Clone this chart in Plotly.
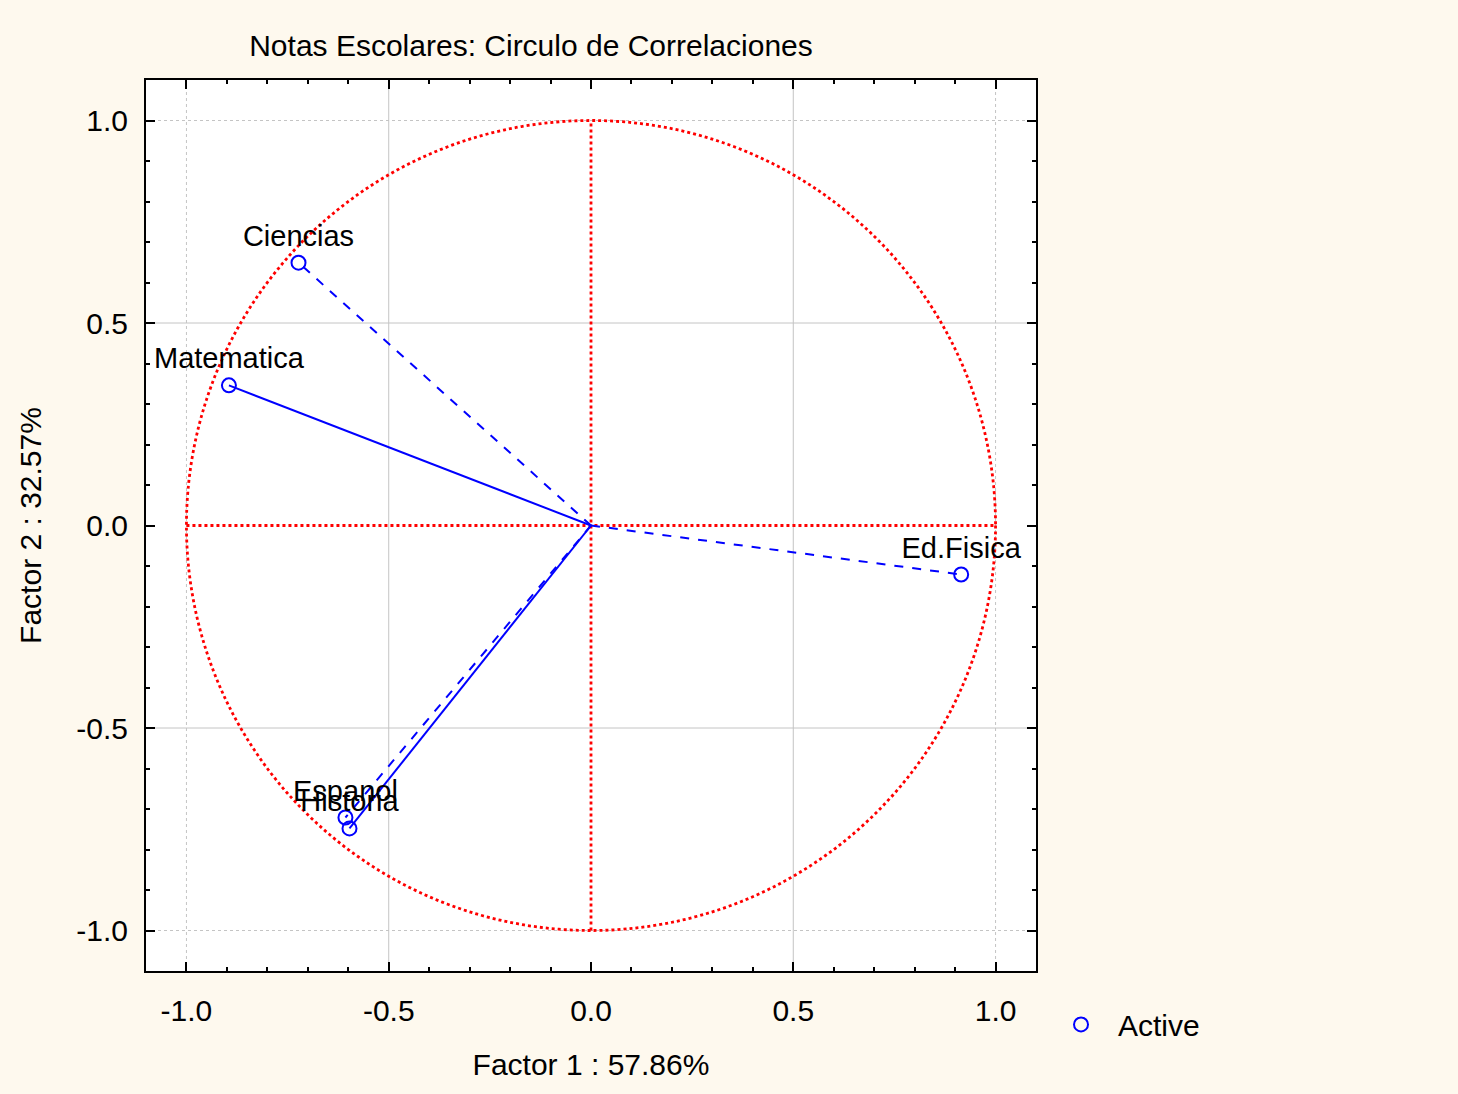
import plotly.graph_objects as go

# ---- data ----
variables = ["Ciencias", "Matematica", "Ed.Fisica", "Espanol", "Historia"]
factor1 = [-0.723, -0.895, 0.915, -0.607, -0.597]
factor2 = [0.649, 0.346, -0.121, -0.721, -0.748]
line_dash = ["dash", "solid", "dash", "dash", "solid"]
tick_vals = [-1.0, -0.5, 0.0, 0.5, 1.0]
tick_text = ["-1.0", "-0.5", "0.0", "0.5", "1.0"]
solid_grid = [-0.5, 0.5]
dotted_grid = [-1.0, 1.0]

FONT = "Liberation Sans, Arial, sans-serif"
FS = 30
BLUE = "#0000ff"
RED = "#ff0000"

fig = go.Figure()

# vectors from origin
for name, x, y, d in zip(variables, factor1, factor2, line_dash):
    fig.add_trace(go.Scatter(
        x=[0, x], y=[0, y], mode="lines",
        line=dict(color=BLUE, width=2, dash=d),
        showlegend=False, hoverinfo="skip"))

# points with labels
fig.add_trace(go.Scatter(
    x=factor1, y=factor2, mode="markers+text", name="Active",
    text=variables, textposition="top center",
    textfont=dict(family=FONT, size=FS - 1, color="black"),
    marker=dict(symbol="circle-open", size=14, color=BLUE, line=dict(width=2, color=BLUE)),
    showlegend=True))

shapes = []
# gridlines
for v in solid_grid:
    shapes.append(dict(type="line", xref="x", yref="paper", x0=v, x1=v, y0=0, y1=1,
                       line=dict(color="#c4c4c4", width=1), layer="below"))
    shapes.append(dict(type="line", xref="paper", yref="y", x0=0, x1=1, y0=v, y1=v,
                       line=dict(color="#c4c4c4", width=1), layer="below"))
for v in dotted_grid:
    shapes.append(dict(type="line", xref="x", yref="paper", x0=v, x1=v, y0=0, y1=1,
                       line=dict(color="#c4c4c4", width=1, dash="dot"), layer="below"))
    shapes.append(dict(type="line", xref="paper", yref="y", x0=0, x1=1, y0=v, y1=v,
                       line=dict(color="#c4c4c4", width=1, dash="dot"), layer="below"))
# correlation circle and axes
shapes.append(dict(type="circle", xref="x", yref="y", x0=-1, y0=-1, x1=1, y1=1,
                   line=dict(color=RED, width=2.8, dash="dot"), layer="below"))
shapes.append(dict(type="line", xref="x", yref="y", x0=0, x1=0, y0=-1, y1=1,
                   line=dict(color=RED, width=2.8, dash="dot"), layer="below"))
shapes.append(dict(type="line", xref="x", yref="y", x0=-1, x1=1, y0=0, y1=0,
                   line=dict(color=RED, width=2.8, dash="dot"), layer="below"))

axis_common = dict(
    range=[-1.1, 1.1], tickvals=tick_vals, ticktext=tick_text,
    showgrid=False, zeroline=False,
    showline=True, linecolor="black", linewidth=2, mirror="allticks",
    ticks="inside", ticklen=9, tickwidth=2, tickcolor="black",
    minor=dict(dtick=0.1, ticks="inside", ticklen=4, tickwidth=2, tickcolor="black", showgrid=False),
    tickfont=dict(family=FONT, size=FS, color="black"),
)

fig.update_layout(
    width=1458, height=1094,
    margin=dict(l=146, r=422, t=80, b=123),
    paper_bgcolor="#fef9ee", plot_bgcolor="white",
    font=dict(family=FONT, size=FS, color="black"),
    title=dict(text="Notas Escolares: Circulo de Correlaciones",
               xref="container", x=531 / 1458, xanchor="center",
               yref="container", y=1 - 45 / 1094, yanchor="middle",
               font=dict(family=FONT, size=FS, color="black")),
    xaxis=dict(**axis_common, ticklabelstandoff=12,
               title=dict(text="Factor 1 : 57.86%", standoff=28,
                          font=dict(family=FONT, size=FS))),
    yaxis=dict(**axis_common, ticklabelstandoff=10,
               title=dict(text="Factor 2 : 32.57%", standoff=26,
                          font=dict(family=FONT, size=FS))),
    shapes=shapes,
    legend=dict(x=1.009, xanchor="left", y=-0.06, yanchor="middle",
                bgcolor="rgba(0,0,0,0)", font=dict(family=FONT, size=FS),
                itemwidth=64),
    showlegend=True,
)

fig.write_html("out.html")
